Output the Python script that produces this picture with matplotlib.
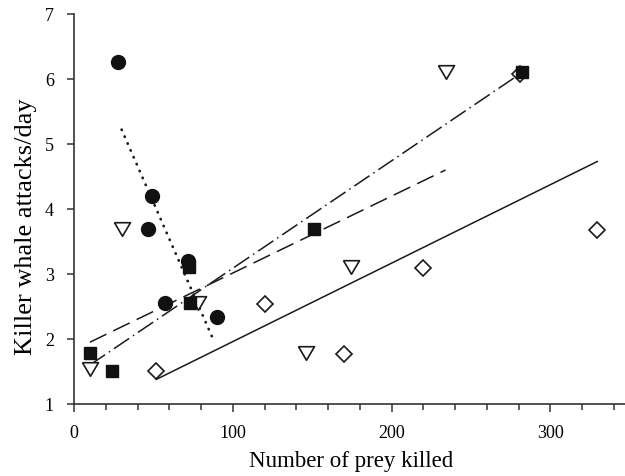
import matplotlib
matplotlib.use("Agg")
import matplotlib.pyplot as plt
from matplotlib.ticker import MultipleLocator

plt.rcParams['font.family'] = ['Liberation Serif', 'DejaVu Serif']

# filled circles + dotted fit
circ_x = [27.7, 49, 46.6, 71.8, 57, 90]
circ_y = [6.26, 4.2, 3.69, 3.2, 2.55, 2.34]
circ_fit_x = [30, 87]
circ_fit_y = [5.22, 2.03]

# filled squares + dash-dot fit
sq_x = [10, 24, 72.5, 73, 151, 282]
sq_y = [1.78, 1.51, 3.1, 2.55, 3.69, 6.1]
sq_fit_x = [10, 281]
sq_fit_y = [1.6, 6.08]

# open triangles + dashed fit
tri_x = [10, 30, 78, 146, 174.5, 234]
tri_y = [1.54, 3.69, 2.56, 1.78, 3.1, 6.1]
tri_fit_x = [10, 234]
tri_fit_y = [1.95, 4.6]

# open diamonds + solid fit
dia_x = [51.5, 120, 170, 219.5, 281, 329.5]
dia_y = [1.5, 2.54, 1.77, 3.09, 6.08, 3.68]
dia_fit_x = [52, 329.5]
dia_fit_y = [1.38, 4.73]

fig = plt.figure(figsize=(6.25, 4.77), dpi=100)
ax = fig.add_axes([0.1184, 0.151, 0.8816, 0.8176])

lc = '#1a1a1a'
ax.plot(circ_fit_x, circ_fit_y, color=lc, lw=2, linestyle=(0, (0.1, 2.6)),
        dash_capstyle='round')
ax.plot(sq_fit_x, sq_fit_y, color=lc, lw=1.1, linestyle=(0, (12, 3, 1, 3)))
ax.plot(tri_fit_x, tri_fit_y, color=lc, lw=1.1, linestyle=(0, (12, 5)))
ax.plot(dia_fit_x, dia_fit_y, color=lc, lw=1.1, linestyle='-')

# slightly flattened down-triangle
tri_marker = [(-1, 0.85), (1, 0.85), (0, -0.85), (-1, 0.85)]

ax.plot(dia_x, dia_y, 'D', ms=8.3, mfc='white', mec=lc, mew=1.2, linestyle='none')
ax.plot(tri_x, tri_y, marker=tri_marker, ms=11.5, mfc='white', mec=lc, mew=1.2,
        linestyle='none')
ax.plot(sq_x, sq_y, 's', ms=8.7, mfc='#111111', mec='#111111', linestyle='none')
ax.plot(circ_x, circ_y, 'o', ms=10, mfc='#111111', mec='#111111', linestyle='none')

ax.set_xlim(0, 347)
ax.set_ylim(1, 7)
ax.xaxis.set_major_locator(MultipleLocator(100))
ax.xaxis.set_minor_locator(MultipleLocator(20))
ax.yaxis.set_major_locator(MultipleLocator(1))

for s in ['top', 'right']:
    ax.spines[s].set_visible(False)
for s in ['left', 'bottom']:
    ax.spines[s].set_color('#333333')
    ax.spines[s].set_linewidth(1.2)

ax.tick_params(axis='x', which='major', length=5.5, width=1.1, color='#333333',
               labelsize=13, pad=9)
ax.tick_params(axis='y', which='major', length=5, width=1.1, color='#333333',
               labelsize=13, pad=9.5)
ax.tick_params(axis='x', which='minor', length=4.5, width=1.1, color='#333333')

ax.set_xlabel('Number of prey killed', fontsize=16.5)
ax.set_ylabel('Killer whale attacks/day', fontsize=19)
ax.xaxis.set_label_coords(0.503, -0.118)
ax.yaxis.set_label_coords(-0.067, 0.456)

fig.savefig('out.png', dpi=100)
